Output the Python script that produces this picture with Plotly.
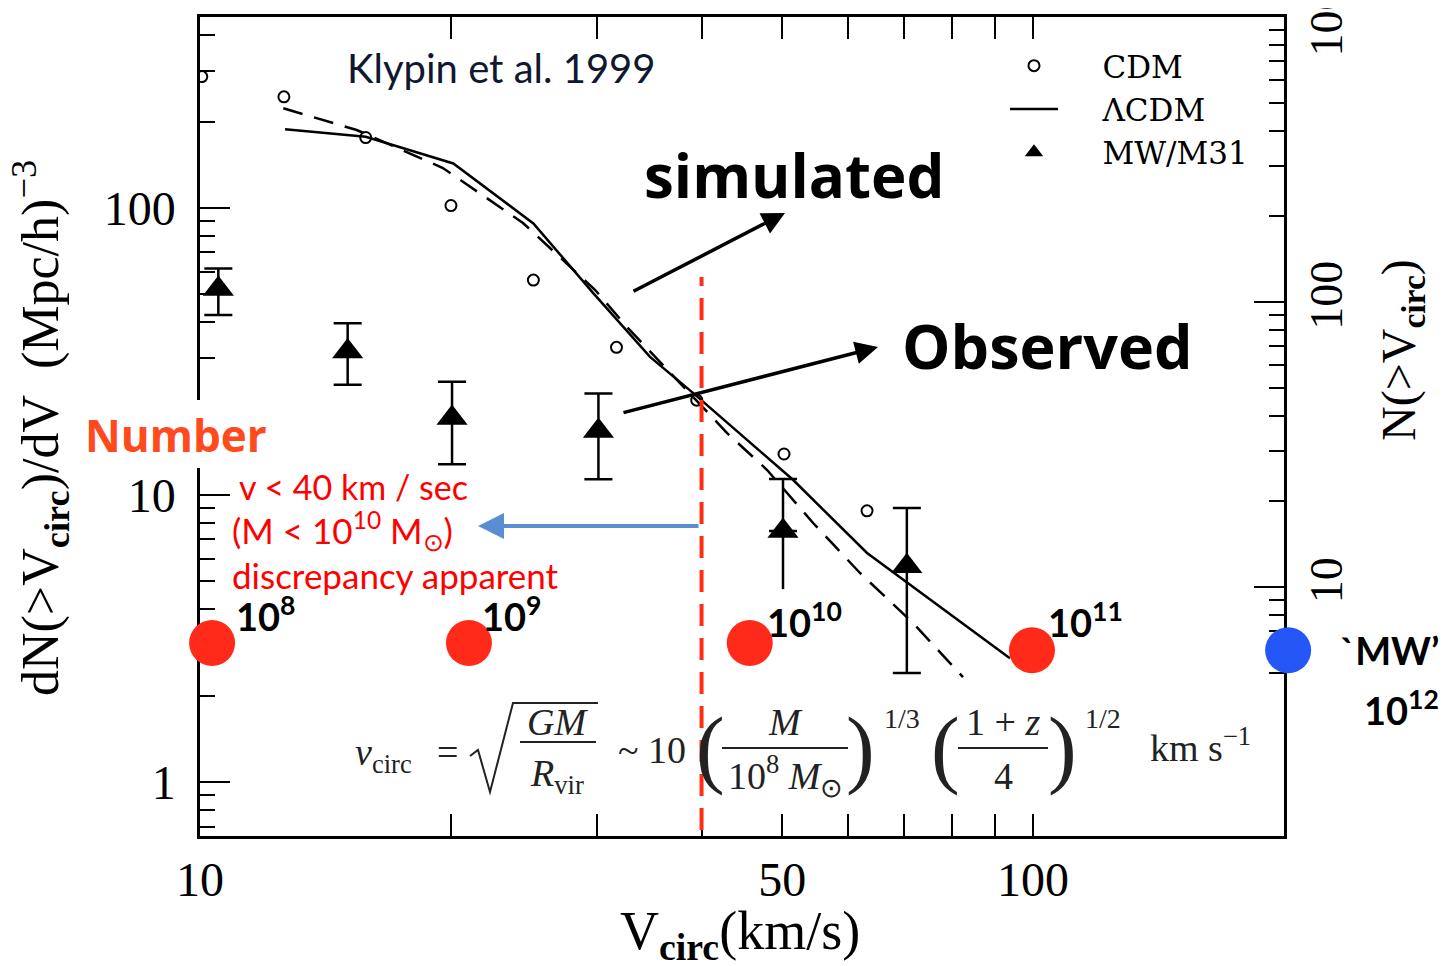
import math
import plotly.graph_objects as go

# ---------------- data ----------------
# CDM (open circles)
cdm_v = [10.05, 12.61, 15.81, 20.01, 25.13, 31.62, 39.47, 50.24, 63.2]
cdm_n = [287, 244, 176, 102, 56.1, 32.7, 21.4, 13.9, 8.81]

# dashed curve
dash_v = [12.59, 15.42, 19.57, 24.42, 29.81, 32.52, 42.93, 47.95, 54.45, 61.98, 71.78, 82.4]
dash_n = [222.6, 187, 137.8, 88.7, 51.8, 38.6, 16.44, 12.22, 7.99, 5.35, 3.58, 2.32]

# LCDM (solid curve)
lcdm_v = [12.65, 15.81, 20.14, 25.13, 29.67, 34.69, 39.06, 51.5, 63.2, 93.8]
lcdm_n = [188, 177, 143, 88.4, 50.4, 30.3, 22.7, 11.3, 6.28, 2.70]

# MW/M31 observed satellites (triangles with error bars)
mw_v = [10.52, 15.04, 20.07, 30.08, 50.1, 70.55]
mw_n = [52.2, 31.6, 18.55, 16.7, 7.49, 5.65]
mw_hi = [61.6, 39.7, 24.8, 22.6, 11.37, 9.01]
mw_lo = [42.4, 24.2, 12.8, 11.34, 4.70, 2.40]
mw_capped_low = [True, True, True, True, False, True]

# halo mass scale markers
mass_v = [10.34, 21.03, 45.7, 99.7, 202.4]
mass_n = [3.05, 3.05, 3.05, 2.88, 2.88]
mass_colors = ["#FF2A1A", "#FF2A1A", "#FF2A1A", "#FF2A1A", "#2457F5"]
mass_labels = ["10<sup>8</sup>", "10<sup>9</sup>", "10<sup>10</sup>", "10<sup>11</sup>", "`MW’"]

v_cut = 40

x_ticks = [10, 50, 100]
x_minor = [20, 30, 40, 60, 70, 80, 90]
y_ticks = [1, 10, 100]
y_minor = [0.7, 0.8, 0.9, 2, 3, 4, 5, 6, 7, 8, 9, 20, 30, 40, 50, 60, 70, 80, 90, 200, 300, 400]
y2_ticks = [10, 100, 1000]
y2_minor = [5, 6, 7, 8, 9, 20, 30, 40, 50, 60, 70, 80, 90, 200, 300, 400, 500, 600, 700, 800, 900]

legend_names = ["CDM", "ΛCDM", "MW/M31"]

# ---------------- layout geometry ----------------
# the page body adds an 8px offset; reference pixel coords are converted below
OFF = 8
W, H = 1452 - OFF, 966 - OFF
L, R, T, B = 200, 1284, 17, 836          # plot box in reference pixels
R2 = 1338                                # extended (hidden) axis end for the mass markers
DEC = (R - L) / math.log10(200.1 / 10)   # pixels per decade on x
PW, PH = R2 - L, B - T


def px(x):
    return (x - L) / PW


def py(y):
    return (B - y) / PH


SERIF = "Liberation Serif"
PAD = "&nbsp;" * 4
fig = go.Figure()

# dashed curve
fig.add_trace(go.Scatter(x=dash_v, y=dash_n, mode="lines", showlegend=False,
                         line=dict(color="black", width=2.5, dash="20px,12px")))
# CDM circles
fig.add_trace(go.Scatter(x=cdm_v, y=cdm_n, mode="markers", name=PAD + legend_names[0], legendrank=1,
                         marker=dict(symbol="circle-open", size=11, color="black",
                                     line=dict(width=2, color="black"))))
# LCDM solid
fig.add_trace(go.Scatter(x=lcdm_v, y=lcdm_n, mode="lines", name=PAD + legend_names[1], legendrank=2,
                         line=dict(color="black", width=2.5)))
# MW/M31
plus = [h - n for h, n in zip(mw_hi, mw_n)]
minus = [(n - lo) if c else 0 for n, lo, c in zip(mw_n, mw_lo, mw_capped_low)]
fig.add_trace(go.Scatter(x=mw_v, y=mw_n, mode="markers", name=PAD + legend_names[2], legendrank=3,
                         marker=dict(symbol="triangle-up", size=27, color="black"),
                         error_y=dict(type="data", symmetric=False, array=plus, arrayminus=minus,
                                      color="black", thickness=2.5, width=14)))
for v, n, lo, c in zip(mw_v, mw_n, mw_lo, mw_capped_low):
    if not c:
        fig.add_trace(go.Scatter(x=[v, v], y=[n, lo], mode="lines", showlegend=False,
                                 line=dict(color="black", width=2.5)))
# mass scale markers (on a second x axis with the same scale but a longer range)
fig.add_trace(go.Scatter(x=mass_v, y=mass_n, xaxis="x2", yaxis="y", mode="markers",
                         showlegend=False, cliponaxis=False,
                         marker=dict(size=46, color=mass_colors)))
# helper trace for right axis
fig.add_trace(go.Scatter(x=[cdm_v[0]], y=[cdm_n[0]], yaxis="y2", mode="markers",
                         marker=dict(opacity=0), showlegend=False, hoverinfo="skip"))

tickfont = dict(family=SERIF, size=48, color="black")
dom = (R - L) / PW

fig.update_layout(
    width=W, height=H,
    margin=dict(l=L - OFF, r=W - (R2 - OFF), t=T - OFF, b=H - (B - OFF), autoexpand=False),
    paper_bgcolor="white", plot_bgcolor="rgba(0,0,0,0)",
    xaxis=dict(type="log", domain=[0, dom], range=[1, math.log10(200.1)], showline=True,
               linecolor="black", linewidth=2.5, mirror="allticks", ticks="inside", ticklen=22,
               tickwidth=2, tickcolor="black", tickmode="array", tickvals=x_ticks,
               ticktext=[str(t) for t in x_ticks], tickfont=tickfont, automargin=False,
               minor=dict(tickmode="array", tickvals=x_minor, ticks="inside", ticklen=15,
                          tickwidth=2, tickcolor="black", showgrid=False),
               showgrid=False, zeroline=False, ticklabelstandoff=0),
    xaxis2=dict(type="log", anchor="y", domain=[0, 1], automargin=False,
                range=[1, 1 + (R2 - L) / DEC], visible=False),
    yaxis=dict(type="log", range=[-0.188, 2.6655], showline=True, linecolor="black",
               linewidth=2.5, ticks="inside", ticklen=30, tickwidth=2, tickcolor="black",
               tickmode="array", tickvals=y_ticks, ticktext=[str(t) for t in y_ticks],
               tickfont=tickfont, layer="below traces", automargin=False,
               minor=dict(tickmode="array", tickvals=y_minor, ticks="inside", ticklen=15,
                          tickwidth=2, tickcolor="black", showgrid=False),
               showgrid=False, zeroline=False, ticklabelstandoff=12),
    yaxis2=dict(type="log", overlaying="y", side="right", anchor="x", range=[0.126, 3.001],
                showline=True, linecolor="black", linewidth=2.5, ticks="inside", ticklen=30,
                tickwidth=2, tickcolor="black", tickmode="array", tickvals=y2_ticks,
                ticktext=[str(t) for t in y2_ticks], tickangle=-90,
                tickfont=dict(family=SERIF, size=46, color="black"),
                ticklabeloverflow="allow", automargin=False,
                minor=dict(tickmode="array", tickvals=y2_minor, ticks="inside", ticklen=15,
                           tickwidth=2, tickcolor="black", showgrid=False),
                showgrid=False, zeroline=False, layer="below traces", ticklabelstandoff=0),
    legend=dict(x=px(1005), y=py(39), xanchor="left", yanchor="top",
                font=dict(family="DejaVu Serif", size=31, color="black"),
                bgcolor="rgba(0,0,0,0)", itemwidth=48, tracegroupgap=0),
    showlegend=True,
)

shapes = []
# white patch behind "Number"
shapes.append(dict(type="rect", xref="paper", yref="paper", x0=px(80), x1=px(272),
                   y0=py(468), y1=py(400), fillcolor="white", line=dict(width=0), layer="above"))
# red dashed line at v = 40
shapes.append(dict(type="line", xref="x", yref="paper", x0=v_cut, x1=v_cut, y0=py(830), y1=py(277),
                   line=dict(color="#FF2D12", width=4, dash="22px,12px"), layer="above"))

ann = []


def text(x, y, s, size, family=SERIF, color="black", xanchor="center", yanchor="middle",
         angle=0, weight="normal"):
    ann.append(dict(x=px(x), y=py(y), xref="paper", yref="paper", text=s, showarrow=False,
                    xanchor=xanchor, yanchor=yanchor, textangle=angle,
                    font=dict(family=family, size=size, color=color, weight=weight)))


def arrow(x0, y0, x1, y1, color, width):
    ann.append(dict(x=px(x1), y=py(y1), xref="paper", yref="paper", ax=x0 - x1, ay=y0 - y1,
                    axref="pixel", ayref="pixel", text="", showarrow=True, arrowhead=2,
                    arrowsize=1.3, arrowwidth=width, arrowcolor=color))


# axis titles
text(40, 428, "dN(&gt;V<sub><b>circ</b></sub>)/dV&nbsp;&nbsp;(Mpc/h)<sup>−3</sup>", 52, angle=-90)
text(740, 934, "V<sub><b>circ</b></sub>(km/s)", 54)
text(1402, 350, "N(&gt;V<sub><b>circ</b></sub>)", 48, angle=-90)

# titles and labels
text(501, 68, "Klypin et al. 1999", 40, family="Lato", color="#101830")
text(795, 175, "<b>simulated</b>", 60, family="Open Sans")
text(1047, 345, "<b>Observed</b>", 61, family="Open Sans")
text(176, 435, "<b>Number</b>", 44, family="Open Sans", color="#FF4A1E")
text(237, 487, "v &lt; 40 km / sec", 34, family="Lato", color="#FF0000", xanchor="left")
text(230, 530, "(M &lt; 10<sup>10</sup> M<sub>⊙</sub>)", 35, family="Lato", color="#FF0000", xanchor="left")
text(230, 575, "discrepancy apparent", 35, family="Lato", color="#FF0000", xanchor="left")

# mass labels
mass_pos = [(234, 614), (480, 614), (765, 620), (1046, 620), (1338, 650)]
for (mx, my), lab in zip(mass_pos, mass_labels):
    text(mx, my, "<b>" + lab + "</b>", 38, family="Lato", xanchor="left")
text(1362, 708, "<b>10<sup>12</sup></b>", 38, family="Lato", xanchor="left")

# arrows
arrow(632, 292, 785, 213, "black", 3.5)
arrow(622, 413, 878, 347, "black", 3.5)
arrow(700, 526, 478, 526, "#5B8ED0", 4)

# formula
FC = "#222222"
text(383, 755, "<i>v</i><sub>circ</sub>", 38, color=FC)
text(447, 752, "=", 38, color=FC)
shapes.append(dict(type="path", xref="paper", yref="paper",
                   path="M {:.5f},{:.5f} L {:.5f},{:.5f} L {:.5f},{:.5f} L {:.5f},{:.5f} L {:.5f},{:.5f}".format(
                       px(470), py(756), px(478), py(750), px(490), py(792), px(513), py(703), px(598), py(703)),
                   line=dict(color=FC, width=2), layer="above"))
text(557, 722, "<i>GM</i>", 38, color=FC)
shapes.append(dict(type="line", xref="paper", yref="paper", x0=px(520), x1=px(596), y0=py(742), y1=py(742),
                   line=dict(color=FC, width=2), layer="above"))
text(557, 776, "<i>R</i><sub>vir</sub>", 38, color=FC)
text(652, 750, "~ 10", 38, color=FC)
text(710, 748, "(", 86, color=FC)
text(785, 722, "<i>M</i>", 38, color=FC)
shapes.append(dict(type="line", xref="paper", yref="paper", x0=px(722), x1=px(848), y0=py(748), y1=py(748),
                   line=dict(color=FC, width=2), layer="above"))
text(785, 776, "10<sup>8</sup> <i>M</i><sub>⊙</sub>", 38, color=FC)
text(860, 748, ")", 86, color=FC)
text(902, 718, "1/3", 28, color=FC)
text(945, 748, "(", 86, color=FC)
text(1003, 722, "1 + <i>z</i>", 38, color=FC)
shapes.append(dict(type="line", xref="paper", yref="paper", x0=px(958), x1=px(1048), y0=py(748), y1=py(748),
                   line=dict(color=FC, width=2), layer="above"))
text(1003, 776, "4", 38, color=FC)
text(1062, 748, ")", 86, color=FC)
text(1103, 718, "1/2", 28, color=FC)
text(1200, 745, "km s<sup>−1</sup>", 38, color=FC)

fig.update_layout(shapes=shapes, annotations=ann)
fig.write_html("out.html")
